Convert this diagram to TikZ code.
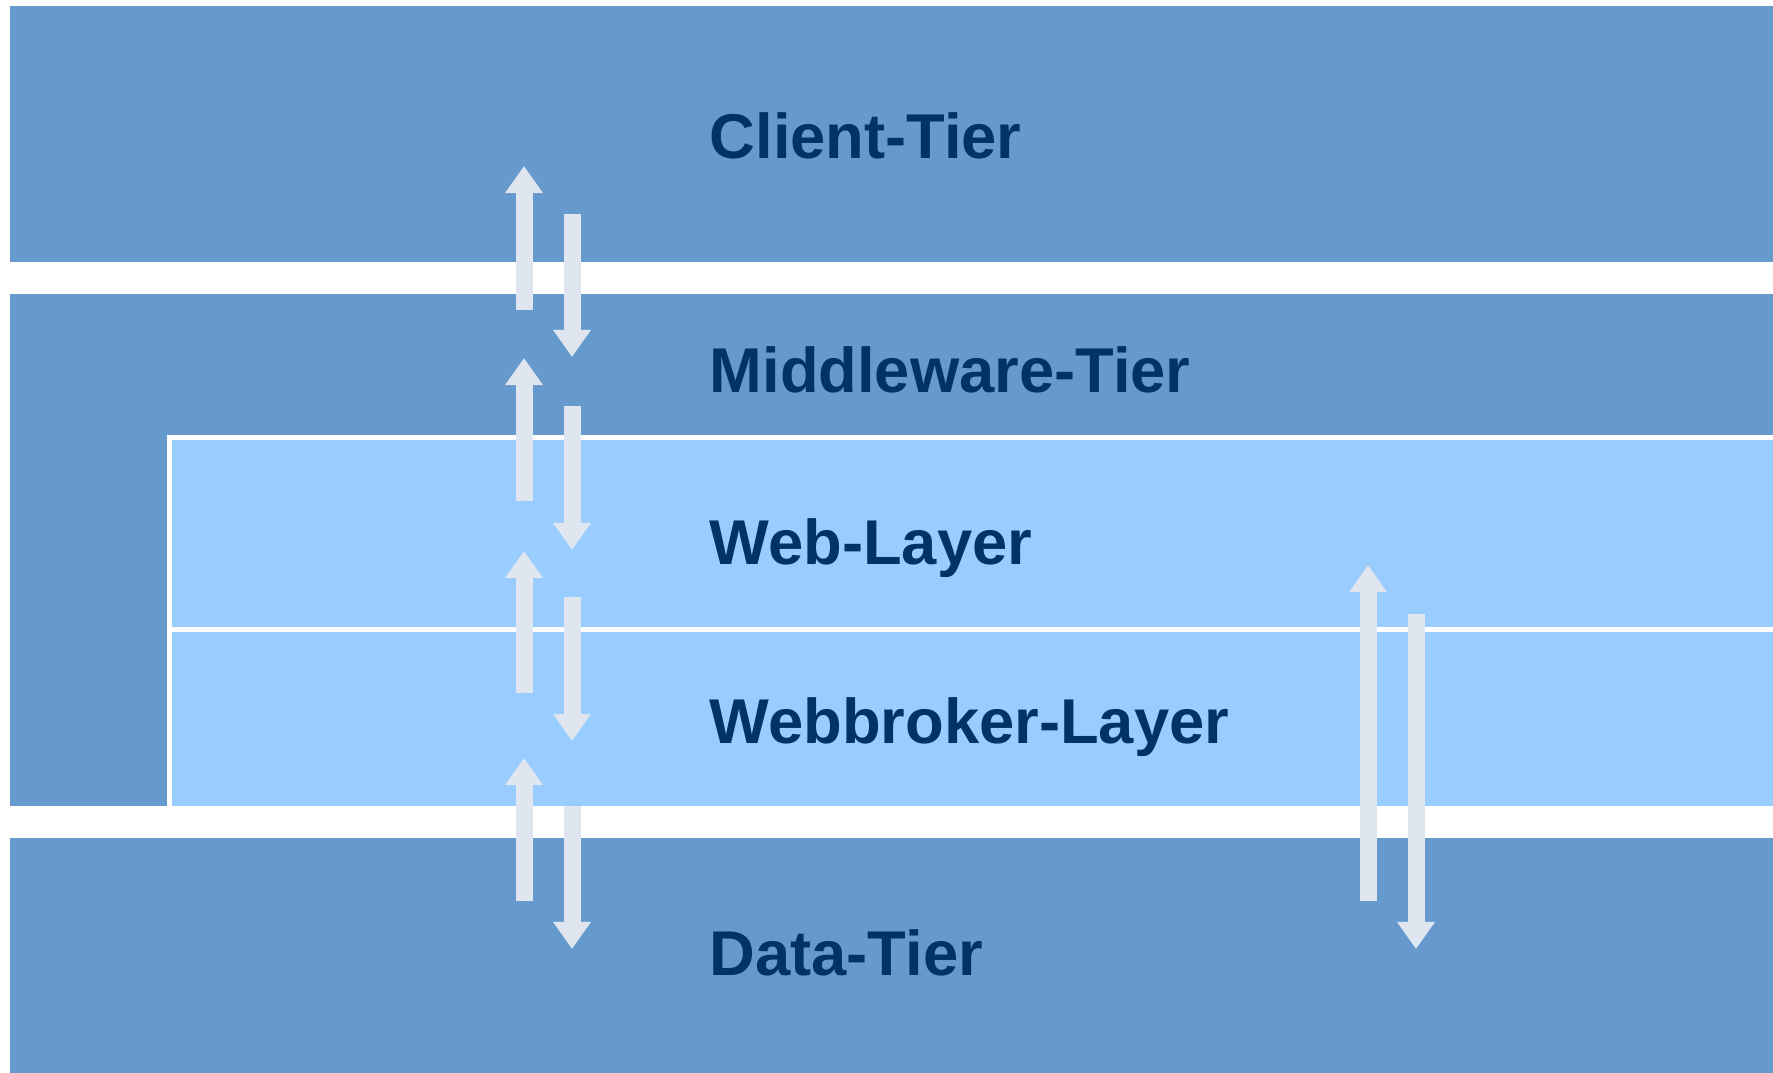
\documentclass[tikz,border=0pt]{standalone}
\usepackage{fontspec}
\setmainfont{Liberation Sans}
\usetikzlibrary{arrows.meta}

\definecolor{tierblue}{HTML}{6699CC}
\definecolor{layerblue}{HTML}{99CCFF}
\definecolor{flowgray}{HTML}{DFE6F0}
\definecolor{labelblue}{HTML}{003366}

\begin{document}
\begin{tikzpicture}[
        x=0.01cm, y=-0.01cm,
        tier/.style={fill=tierblue, draw=none},
        layer/.style={fill=layerblue, draw=none},
        edge/.style={draw=white, line width=0.05cm},
        label/.style={anchor=base west, inner sep=0pt, text=labelblue,
          font=\bfseries\fontsize{18}{20}\selectfont},
        flow/.style={draw=flowgray, line width=0.17cm,
          -{Triangle[width=0.36cm, length=0.27cm]}}
    ]
    \useasboundingbox (0,0) rectangle (1773,1073);

    % Tiers
    \path[tier] (10,6) rectangle (1773,262);
    \path[tier] (10,294) rectangle (1773,806);
    \path[tier] (10,838) rectangle (1773,1073);

    % Layers inside the middleware tier
    \path[layer] (170,438) rectangle (1773,806);
    \draw[edge] (169.5,806) -- (169.5,437.5) -- (1773,437.5);
    \draw[edge] (169.5,629) -- (1773,629);

    % Nodes
    \node[label] (client) at (709,159) {Client-Tier};
    \node[label] (middleware) at (709,392) {Middleware-Tier};
    \node[label] (web) at (709,564) {Web-Layer};
    \node[label] (webbroker) at (709,743) {Webbroker-Layer};
    \node[label] (data) at (709,975) {Data-Tier};

    % Requests and responses between the tiers
    \foreach \ybot/\ytip in {310/166, 501/358, 693/551, 901/758}
      \draw[flow] (524,\ybot) -- (524,\ytip);
    \foreach \ytop/\ytip in {214/357, 406/550, 597/741, 806/949}
      \draw[flow] (572,\ytop) -- (572,\ytip);

    % Web-Layer straight to the Data-Tier
    \draw[flow] (1368,901) -- (1368,565);
    \draw[flow] (1416,614) -- (1416,949);

\end{tikzpicture}
\end{document}
